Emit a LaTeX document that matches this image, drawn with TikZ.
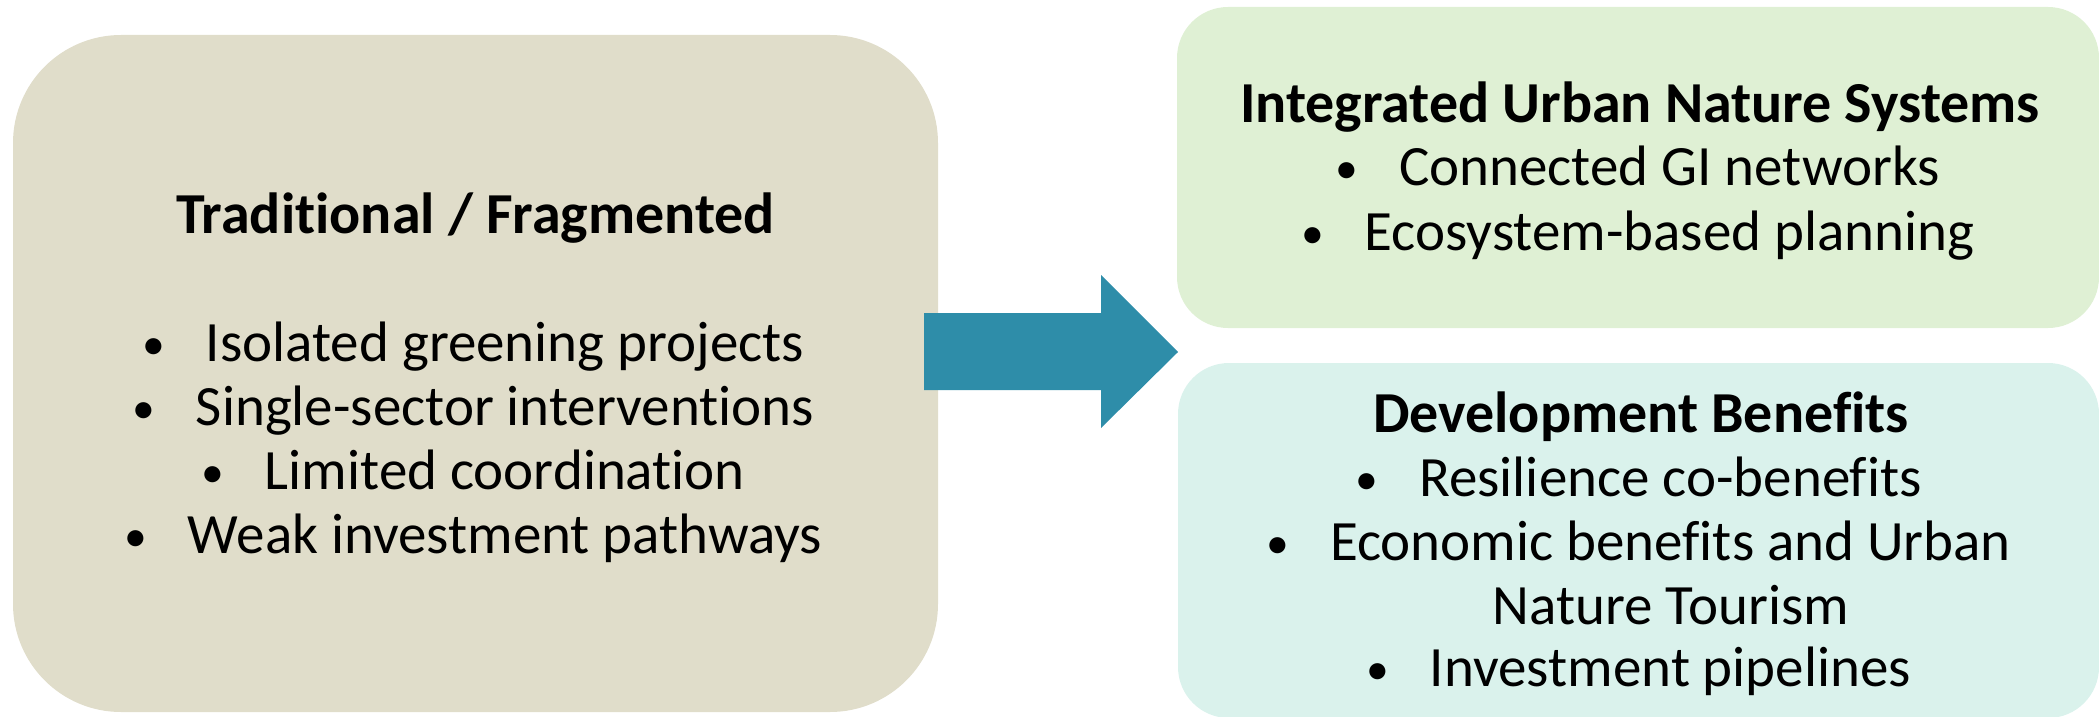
\documentclass[tikz,border=0pt]{standalone}
\usepackage{fontspec}
\setmainfont{Carlito}[Ligatures={NoCommon}]
\definecolor{beigebox}{HTML}{E0DDCA}
\definecolor{greenbox}{HTML}{DFF0D4}
\definecolor{tealbox}{HTML}{DAF2EC}
\definecolor{arrowblue}{HTML}{2E8DA9}
\tikzset{
  panel/.style={rectangle, draw=none, inner sep=0pt},
  ttl/.style={anchor=base, inner sep=0pt, font=\fontsize{58}{64}\selectfont\bfseries},
  itm/.style={anchor=base, inner sep=0pt, font=\fontsize{57}{64}\selectfont},
}
\newcommand{\bul}[1]{\makebox[14pt]{\raisebox{2pt}{\scalebox{0.8}{•}}}\hspace{45pt}#1}
\begin{document}
\begin{tikzpicture}[x=1pt,y=-1pt]
\useasboundingbox (0,0) rectangle (2099,717);
% panels
\node[panel, fill=beigebox, rounded corners=108pt, minimum width=925pt, minimum height=677pt] (left) at (475.5,373.5) {};
\node[panel, fill=greenbox, rounded corners=51pt, minimum width=922pt, minimum height=321pt] (topright) at (1638,167.5) {};
\node[panel, fill=tealbox, rounded corners=51pt, minimum width=921pt, minimum height=355pt] (botright) at (1638.5,540.5) {};
% arrow
\coordinate (a0) at (924,313);
\coordinate (tip) at (1178,352);
\fill[arrowblue] (a0) -- (1101,313) -- (1101,275) -- (tip) -- (1101,428) -- (1101,390) -- (924,390) -- cycle;
% left texts
\node[ttl] (lt) at (475.5,233) {Traditional / Fragmented};
\node[itm] (l1) at (475.5,361) {\bul{Isolated greening projects}};
\node[itm] (l2) at (475.5,425) {\bul{Single-sector interventions}};
\node[itm] (l3) at (475.5,489) {\bul{Limited coordination}};
\node[itm] (l4) at (475.5,553) {\bul{Weak investment pathways}};
% top right texts
\node[ttl] (tt) at (1640,122.5) {Integrated Urban Nature Systems};
\node[itm] (t1) at (1640,185) {\bul{Connected GI networks}};
\node[itm] (t2) at (1640,250.5) {\bul{Ecosystem-based planning}};
% bottom right texts
\node[ttl] (bt) at (1641,432) {Development Benefits};
\node[itm] (b1) at (1641,496) {\bul{Resilience co-benefits}};
\node[itm] (b2) at (1641,560) {\bul{Economic benefits and Urban}};
\node[itm] (b2b) at (1671,624) {Nature Tourism};
\node[itm] (b3) at (1641,686) {\bul{Investment pipelines}};
\end{tikzpicture}
\end{document}
